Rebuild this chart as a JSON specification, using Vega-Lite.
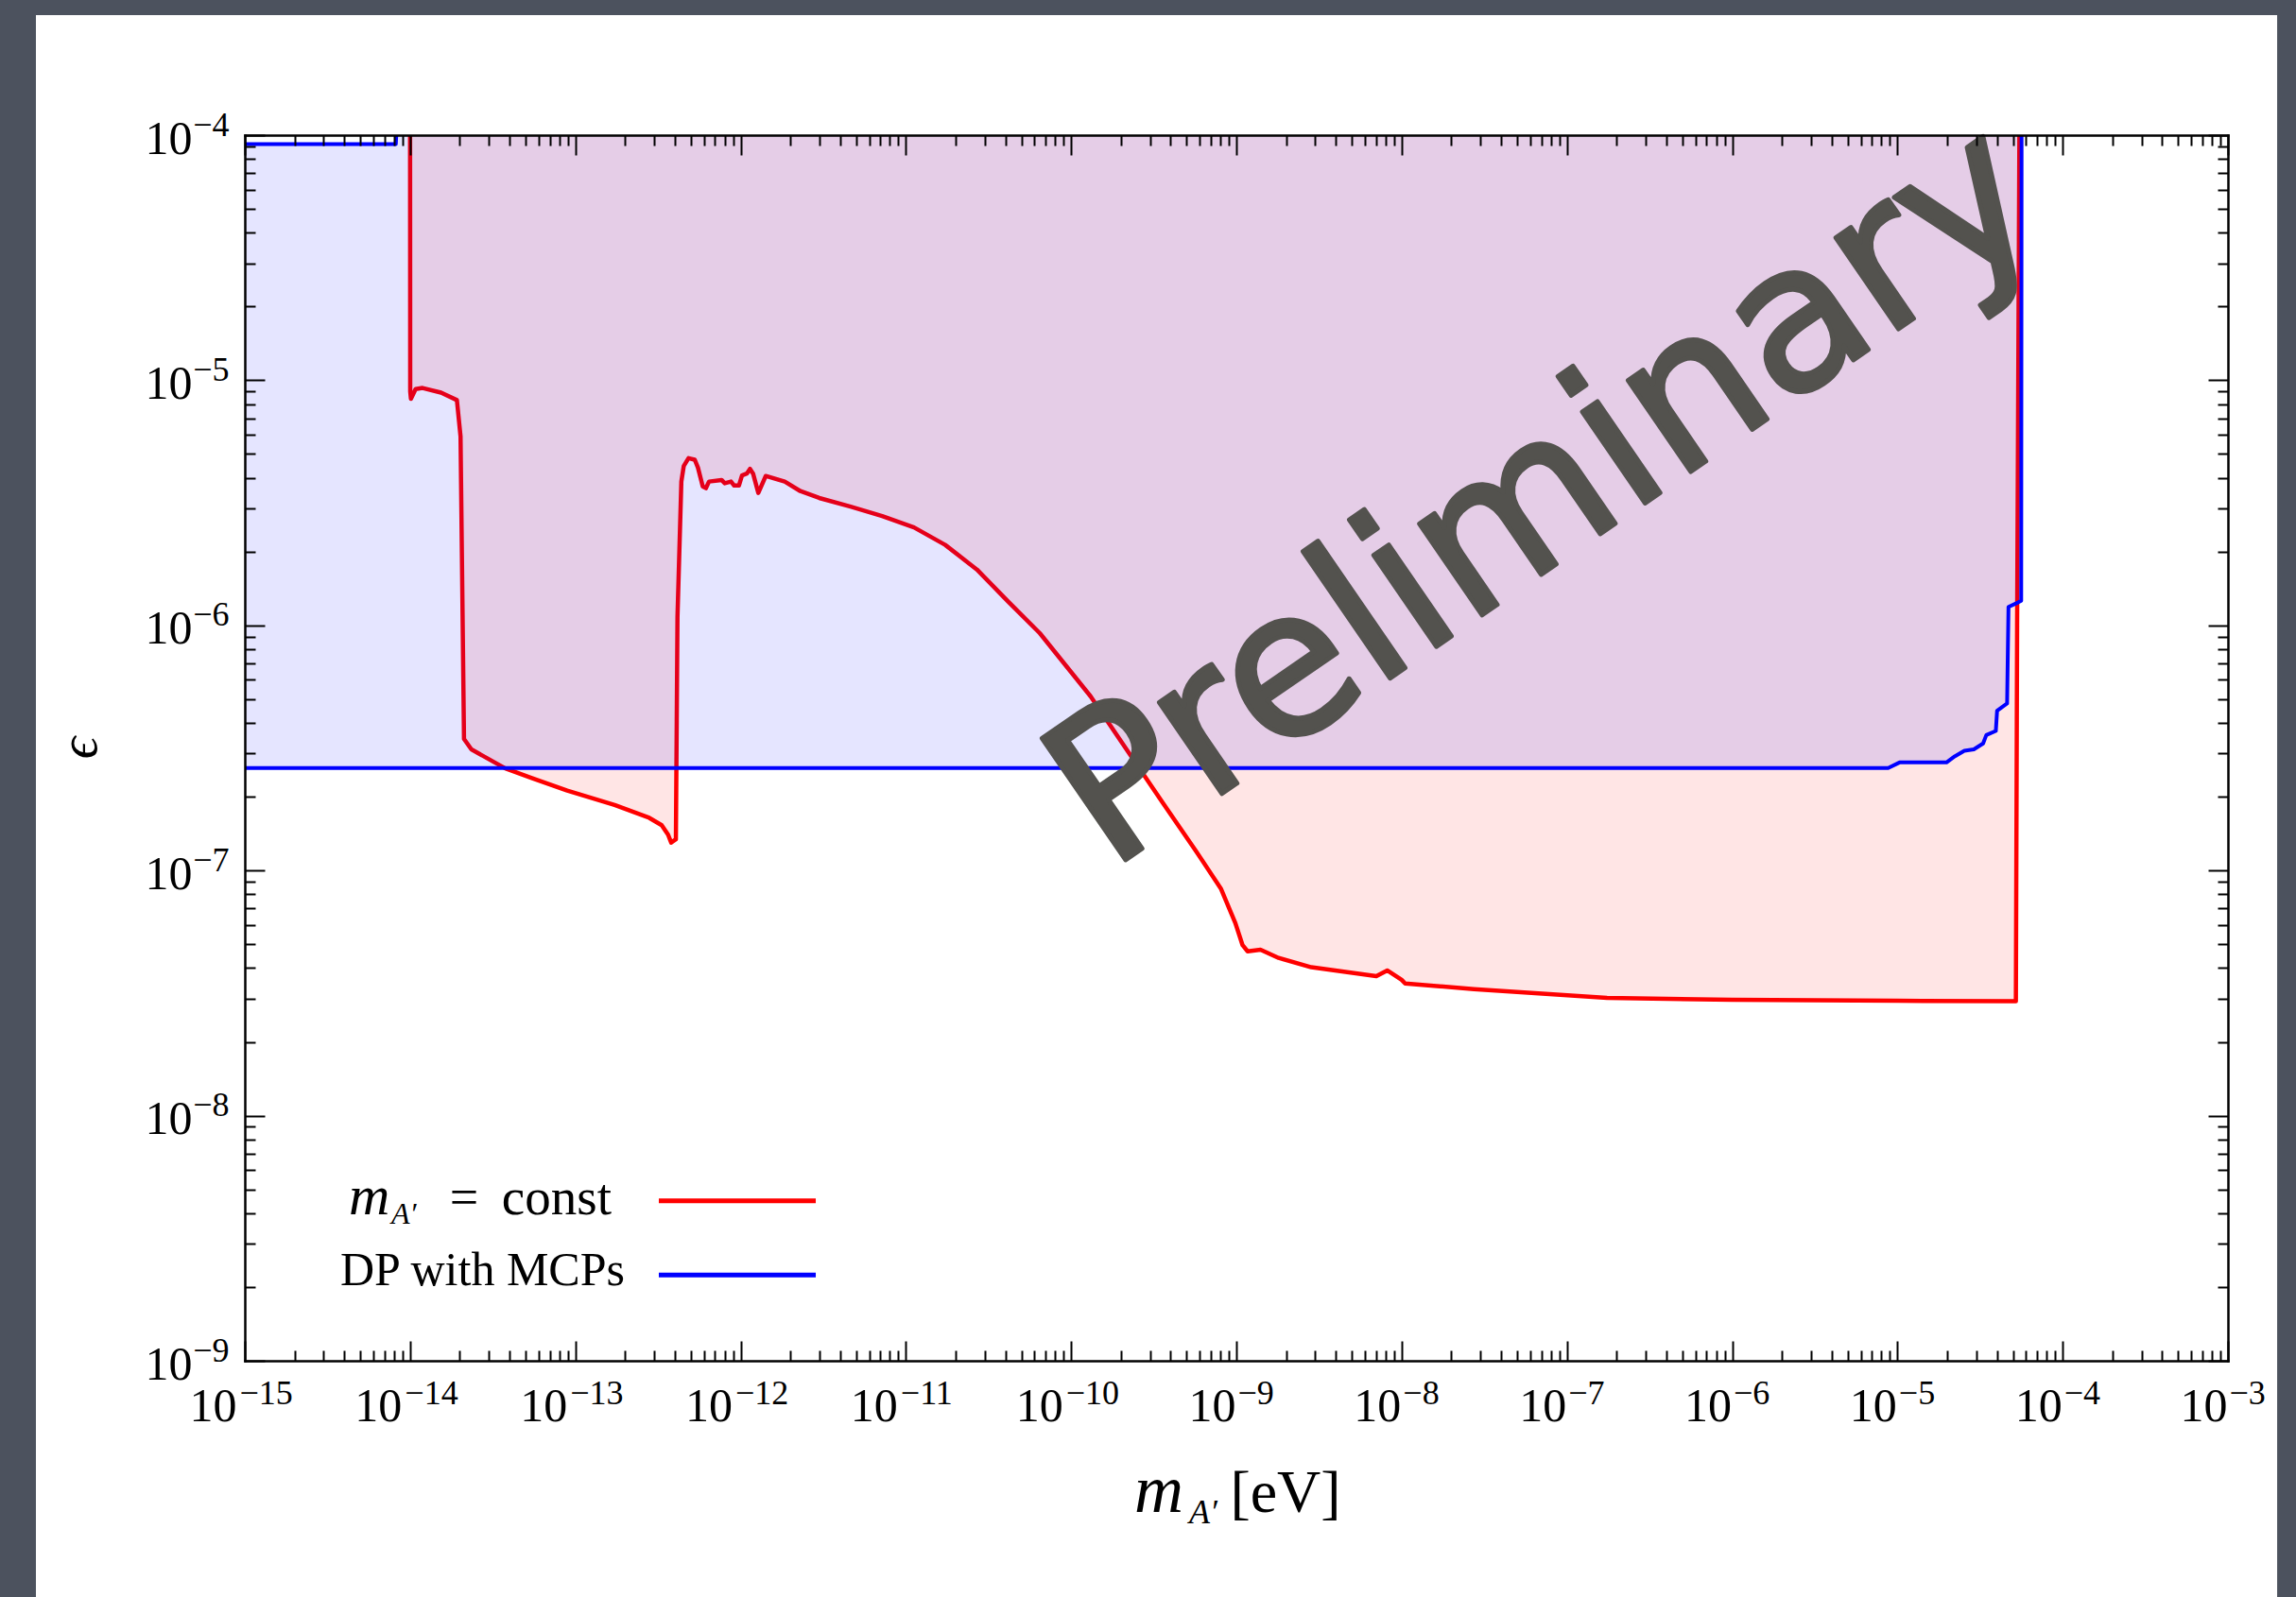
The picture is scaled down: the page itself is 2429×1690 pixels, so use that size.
{
  "$schema": "https://vega.github.io/schema/vega-lite/v6.json",
  "width": 2098,
  "height": 1297,
  "autosize": {"type": "none"},
  "padding": {"left": 259, "top": 143, "right": 72, "bottom": 250},
  "background": "#4c525e",
  "config": {"view": {"stroke": null}},
  "data": {"values": [{}]},
  "datasets": {
    "red": [
      {"m": 1.0e-14, "eps": 1.0e-4},
      {"m": 1.002e-14, "eps": 9.0e-6},
      {"m": 1.012e-14, "eps": 8.4e-6},
      {"m": 1.08e-14, "eps": 9.2e-6},
      {"m": 1.19e-14, "eps": 9.3e-6},
      {"m": 1.54e-14, "eps": 8.9e-6},
      {"m": 1.92e-14, "eps": 8.3e-6},
      {"m": 2.02e-14, "eps": 5.9e-6},
      {"m": 2.12e-14, "eps": 3.44e-7},
      {"m": 2.35e-14, "eps": 3.12e-7},
      {"m": 3.77e-14, "eps": 2.61e-7},
      {"m": 5.5e-14, "eps": 2.38e-7},
      {"m": 8.93e-14, "eps": 2.12e-7},
      {"m": 1.73e-13, "eps": 1.85e-7},
      {"m": 2.80e-13, "eps": 1.64e-7},
      {"m": 3.33e-13, "eps": 1.53e-7},
      {"m": 3.64e-13, "eps": 1.40e-7},
      {"m": 3.80e-13, "eps": 1.30e-7},
      {"m": 4.06e-13, "eps": 1.34e-7},
      {"m": 4.15e-13, "eps": 1.08e-6},
      {"m": 4.38e-13, "eps": 3.86e-6},
      {"m": 4.53e-13, "eps": 4.47e-6},
      {"m": 4.84e-13, "eps": 4.81e-6},
      {"m": 5.28e-13, "eps": 4.74e-6},
      {"m": 5.52e-13, "eps": 4.40e-6},
      {"m": 5.90e-13, "eps": 3.69e-6},
      {"m": 6.17e-13, "eps": 3.63e-6},
      {"m": 6.44e-13, "eps": 3.86e-6},
      {"m": 7.67e-13, "eps": 3.92e-6},
      {"m": 8.02e-13, "eps": 3.80e-6},
      {"m": 8.75e-13, "eps": 3.86e-6},
      {"m": 9.14e-13, "eps": 3.72e-6},
      {"m": 9.77e-13, "eps": 3.72e-6},
      {"m": 1.02e-12, "eps": 4.09e-6},
      {"m": 1.09e-12, "eps": 4.16e-6},
      {"m": 1.14e-12, "eps": 4.35e-6},
      {"m": 1.19e-12, "eps": 4.16e-6},
      {"m": 1.28e-12, "eps": 3.47e-6},
      {"m": 1.42e-12, "eps": 4.07e-6},
      {"m": 1.85e-12, "eps": 3.86e-6},
      {"m": 2.30e-12, "eps": 3.53e-6},
      {"m": 2.99e-12, "eps": 3.31e-6},
      {"m": 4.63e-12, "eps": 3.05e-6},
      {"m": 7.19e-12, "eps": 2.79e-6},
      {"m": 1.12e-11, "eps": 2.51e-6},
      {"m": 1.73e-11, "eps": 2.13e-6},
      {"m": 2.69e-11, "eps": 1.69e-6},
      {"m": 4.16e-11, "eps": 1.25e-6},
      {"m": 6.46e-11, "eps": 9.3e-7},
      {"m": 1.31e-10, "eps": 5.14e-7},
      {"m": 2.54e-10, "eps": 2.66e-7},
      {"m": 3.60e-10, "eps": 1.88e-7},
      {"m": 5.65e-10, "eps": 1.21e-7},
      {"m": 8.05e-10, "eps": 8.45e-8},
      {"m": 9.86e-10, "eps": 6.1e-8},
      {"m": 1.09e-9, "eps": 4.96e-8},
      {"m": 1.17e-9, "eps": 4.68e-8},
      {"m": 1.40e-9, "eps": 4.75e-8},
      {"m": 1.80e-9, "eps": 4.40e-8},
      {"m": 2.84e-9, "eps": 4.03e-8},
      {"m": 7.03e-9, "eps": 3.71e-8},
      {"m": 8.18e-9, "eps": 3.91e-8},
      {"m": 1.00e-8, "eps": 3.58e-8},
      {"m": 1.05e-8, "eps": 3.46e-8},
      {"m": 2.74e-8, "eps": 3.28e-8},
      {"m": 1.75e-7, "eps": 3.02e-8},
      {"m": 1.0e-6, "eps": 2.97e-8},
      {"m": 1.0e-5, "eps": 2.94e-8},
      {"m": 5.21e-5, "eps": 2.93e-8},
      {"m": 5.30e-5, "eps": 1.0e-6},
      {"m": 5.47e-5, "eps": 1.0e-4}
    ],
    "blue": [
      {"m": 1.0e-15, "eps": 2.62e-7, "top": 9.2e-5},
      {"m": 8.2e-15, "eps": 2.62e-7, "top": 9.2e-5},
      {"m": 8.25e-15, "eps": 2.62e-7, "top": 1.0e-4},
      {"m": 8.79e-6, "eps": 2.62e-7, "top": 1.0e-4},
      {"m": 1.03e-5, "eps": 2.76e-7, "top": 1.0e-4},
      {"m": 1.98e-5, "eps": 2.76e-7, "top": 1.0e-4},
      {"m": 2.22e-5, "eps": 2.92e-7, "top": 1.0e-4},
      {"m": 2.54e-5, "eps": 3.08e-7, "top": 1.0e-4},
      {"m": 2.90e-5, "eps": 3.12e-7, "top": 1.0e-4},
      {"m": 3.30e-5, "eps": 3.30e-7, "top": 1.0e-4},
      {"m": 3.45e-5, "eps": 3.57e-7, "top": 1.0e-4},
      {"m": 3.94e-5, "eps": 3.71e-7, "top": 1.0e-4},
      {"m": 4.01e-5, "eps": 4.49e-7, "top": 1.0e-4},
      {"m": 4.61e-5, "eps": 4.80e-7, "top": 1.0e-4},
      {"m": 4.70e-5, "eps": 1.19e-6, "top": 1.0e-4},
      {"m": 5.36e-5, "eps": 1.24e-6, "top": 1.0e-4},
      {"m": 5.61e-5, "eps": 1.26e-6, "top": 1.0e-4},
      {"m": 5.64e-5, "eps": 1.0e-4, "top": 1.0e-4}
    ]
  },
  "resolve": {"axis": {"x": "independent", "y": "independent"}},
  "layer": [
    {
      "mark": {"type": "rect", "color": "white"},
      "encoding": {
        "x": {"datum": 5.444e-17, "type": "quantitative", "scale": {"type": "log", "domain": [1e-15, 1e-3], "nice": false}, "axis": null},
        "x2": {"datum": 1.985e-3},
        "y": {"datum": 3.088e-4, "type": "quantitative", "scale": {"type": "log", "domain": [1e-9, 1e-4], "nice": false}, "axis": null},
        "y2": {"datum": 1.087e-10}
      }
    },
    {
      "data": {"name": "red"},
      "mark": {"type": "area", "color": "#ff0000", "fillOpacity": 0.1},
      "encoding": {
        "x": {"field": "m", "type": "quantitative", "scale": {"type": "log", "domain": [1e-15, 1e-3], "nice": false},
          "axis": {"orient": "bottom", "values": [1e-15, 1e-14, 1e-13, 1e-12, 1e-11, 1e-10, 1e-9, 1e-8, 1e-7, 1e-6, 1e-5, 1e-4, 1e-3],
            "title": null, "grid": false, "zindex": 1, "ticks": false, "domain": true, "domainColor": "black", "domainWidth": 2.5, "domainCap": "square",
            "labelExpr": "'10'", "labelFont": "Liberation Serif", "labelFontSize": 50, "labelColor": "black",
            "labelAlign": "right", "labelBaseline": "alphabetic", "labelPadding": 63,
            "labelOffset": {"condition": {"test": "datum.value < 5e-10", "value": -9}, "value": -1},
            "labelFlush": false, "labelOverlap": false, "labelBound": false}},
        "y": {"field": "eps", "type": "quantitative", "scale": {"type": "log", "domain": [1e-9, 1e-4], "nice": false},
          "axis": {"orient": "left", "values": [1e-9, 1e-8, 1e-7, 1e-6, 1e-5, 1e-4],
            "title": null, "grid": false, "zindex": 1, "ticks": false, "domain": true, "domainColor": "black", "domainWidth": 2.5, "domainCap": "square",
            "labelExpr": "'10'", "labelFont": "Liberation Serif", "labelFontSize": 50, "labelColor": "black",
            "labelAlign": "right", "labelBaseline": "alphabetic", "labelPadding": 56, "labelOffset": 19,
            "labelFlush": false, "labelOverlap": false, "labelBound": false}},
        "y2": {"datum": 1e-4}
      }
    },
    {
      "data": {"name": "red"},
      "mark": {"type": "line", "color": "#ff0000", "strokeWidth": 4.5, "strokeJoin": "round"},
      "encoding": {
        "x": {"field": "m", "type": "quantitative", "scale": {"type": "log", "domain": [1e-15, 1e-3], "nice": false},
          "axis": {"orient": "bottom", "values": [1e-15, 1e-14, 1e-13, 1e-12, 1e-11, 1e-10, 1e-9, 1e-8, 1e-7, 1e-6, 1e-5, 1e-4, 1e-3],
            "title": null, "grid": false, "zindex": 1, "ticks": false, "domain": false,
            "labelExpr": "'−' + round(-log(datum.value) / LN10)", "labelFont": "Liberation Serif", "labelFontSize": 36, "labelColor": "black",
            "labelAlign": "left", "labelBaseline": "alphabetic", "labelPadding": 45,
            "labelOffset": {"condition": {"test": "datum.value < 5e-10", "value": -6}, "value": 1},
            "labelFlush": false, "labelOverlap": false, "labelBound": false}},
        "y": {"field": "eps", "type": "quantitative", "scale": {"type": "log", "domain": [1e-9, 1e-4], "nice": false},
          "axis": {"orient": "left", "values": [1e-9, 1e-8, 1e-7, 1e-6, 1e-5, 1e-4],
            "title": null, "grid": false, "zindex": 1, "ticks": false, "domain": false,
            "labelExpr": "'−' + round(-log(datum.value) / LN10)", "labelFont": "Liberation Serif", "labelFontSize": 36, "labelColor": "black",
            "labelAlign": "right", "labelBaseline": "alphabetic", "labelPadding": 17, "labelOffset": 0,
            "labelFlush": false, "labelOverlap": false, "labelBound": false}}
      }
    },
    {
      "data": {"name": "blue"},
      "mark": {"type": "area", "color": "#0000ff", "fillOpacity": 0.1},
      "encoding": {
        "x": {"field": "m", "type": "quantitative", "scale": {"type": "log", "domain": [1e-15, 1e-3], "nice": false},
          "axis": {"orient": "bottom", "values": [1e-15, 1e-14, 1e-13, 1e-12, 1e-11, 1e-10, 1e-9, 1e-8, 1e-7, 1e-6, 1e-5, 1e-4, 1e-3],
            "title": null, "grid": false, "zindex": 1, "labels": false, "domain": false,
            "ticks": true, "tickSize": -21, "tickWidth": 2, "tickColor": "black"}},
        "y": {"field": "eps", "type": "quantitative", "scale": {"type": "log", "domain": [1e-9, 1e-4], "nice": false},
          "axis": {"orient": "left", "values": [1e-9, 1e-8, 1e-7, 1e-6, 1e-5, 1e-4],
            "title": null, "grid": false, "zindex": 1, "labels": false, "domain": false,
            "ticks": true, "tickSize": -21, "tickWidth": 2, "tickColor": "black"}},
        "y2": {"field": "top"}
      }
    },
    {
      "data": {"name": "blue"},
      "mark": {"type": "line", "color": "#0000ff", "strokeWidth": 4, "strokeJoin": "round"},
      "encoding": {
        "x": {"field": "m", "type": "quantitative", "scale": {"type": "log", "domain": [1e-15, 1e-3], "nice": false},
          "axis": {"orient": "bottom",
            "values": [2e-15, 3e-15, 4e-15, 5e-15, 6e-15, 7e-15, 8e-15, 9e-15,
                       2e-14, 3e-14, 4e-14, 5e-14, 6e-14, 7e-14, 8e-14, 9e-14,
                       2e-13, 3e-13, 4e-13, 5e-13, 6e-13, 7e-13, 8e-13, 9e-13,
                       2e-12, 3e-12, 4e-12, 5e-12, 6e-12, 7e-12, 8e-12, 9e-12,
                       2e-11, 3e-11, 4e-11, 5e-11, 6e-11, 7e-11, 8e-11, 9e-11,
                       2e-10, 3e-10, 4e-10, 5e-10, 6e-10, 7e-10, 8e-10, 9e-10,
                       2e-9, 3e-9, 4e-9, 5e-9, 6e-9, 7e-9, 8e-9, 9e-9,
                       2e-8, 3e-8, 4e-8, 5e-8, 6e-8, 7e-8, 8e-8, 9e-8,
                       2e-7, 3e-7, 4e-7, 5e-7, 6e-7, 7e-7, 8e-7, 9e-7,
                       2e-6, 3e-6, 4e-6, 5e-6, 6e-6, 7e-6, 8e-6, 9e-6,
                       2e-5, 3e-5, 4e-5, 5e-5, 6e-5, 7e-5, 8e-5, 9e-5,
                       2e-4, 3e-4, 4e-4, 5e-4, 6e-4, 7e-4, 8e-4, 9e-4],
            "title": null, "grid": false, "zindex": 1, "labels": false, "domain": false,
            "ticks": true, "tickSize": -11, "tickWidth": 2, "tickColor": "black"}},
        "y": {"field": "eps", "type": "quantitative", "scale": {"type": "log", "domain": [1e-9, 1e-4], "nice": false},
          "axis": {"orient": "left",
            "values": [2e-9, 3e-9, 4e-9, 5e-9, 6e-9, 7e-9, 8e-9, 9e-9,
                       2e-8, 3e-8, 4e-8, 5e-8, 6e-8, 7e-8, 8e-8, 9e-8,
                       2e-7, 3e-7, 4e-7, 5e-7, 6e-7, 7e-7, 8e-7, 9e-7,
                       2e-6, 3e-6, 4e-6, 5e-6, 6e-6, 7e-6, 8e-6, 9e-6,
                       2e-5, 3e-5, 4e-5, 5e-5, 6e-5, 7e-5, 8e-5, 9e-5],
            "title": null, "grid": false, "zindex": 1, "labels": false, "domain": false,
            "ticks": true, "tickSize": -11, "tickWidth": 2, "tickColor": "black"}}
      }
    },
    {
      "data": {"name": "blue"},
      "transform": [{"filter": "datum.m < 1e-14"}],
      "mark": {"type": "line", "color": "#0000ff", "strokeWidth": 4, "strokeJoin": "round"},
      "encoding": {
        "x": {"field": "m", "type": "quantitative", "scale": {"type": "log", "domain": [1e-15, 1e-3], "nice": false},
          "axis": {"orient": "top", "values": [1e-15, 1e-14, 1e-13, 1e-12, 1e-11, 1e-10, 1e-9, 1e-8, 1e-7, 1e-6, 1e-5, 1e-4, 1e-3],
            "title": null, "grid": false, "zindex": 1, "labels": false,
            "domain": true, "domainColor": "black", "domainWidth": 2.5, "domainCap": "square",
            "ticks": true, "tickSize": -21, "tickWidth": 2, "tickColor": "black"}},
        "y": {"field": "top", "type": "quantitative", "scale": {"type": "log", "domain": [1e-9, 1e-4], "nice": false},
          "axis": {"orient": "right", "values": [1e-9, 1e-8, 1e-7, 1e-6, 1e-5, 1e-4],
            "title": null, "grid": false, "zindex": 1, "labels": false,
            "domain": true, "domainColor": "black", "domainWidth": 2.5, "domainCap": "square",
            "ticks": true, "tickSize": -21, "tickWidth": 2, "tickColor": "black"}}
      }
    },
    {
      "mark": {"type": "text", "text": "Preliminary", "font": "DejaVu Sans", "fontSize": 214, "angle": -34.5,
        "align": "center", "baseline": "alphabetic", "color": "#53524e",
        "stroke": "#53524e", "strokeWidth": 5, "strokeJoin": "round"},
      "encoding": {
        "x": {"datum": 1.2e-7, "type": "quantitative", "scale": {"type": "log", "domain": [1e-15, 1e-3], "nice": false},
          "axis": {"orient": "top",
            "values": [2e-15, 3e-15, 4e-15, 5e-15, 6e-15, 7e-15, 8e-15, 9e-15,
                       2e-14, 3e-14, 4e-14, 5e-14, 6e-14, 7e-14, 8e-14, 9e-14,
                       2e-13, 3e-13, 4e-13, 5e-13, 6e-13, 7e-13, 8e-13, 9e-13,
                       2e-12, 3e-12, 4e-12, 5e-12, 6e-12, 7e-12, 8e-12, 9e-12,
                       2e-11, 3e-11, 4e-11, 5e-11, 6e-11, 7e-11, 8e-11, 9e-11,
                       2e-10, 3e-10, 4e-10, 5e-10, 6e-10, 7e-10, 8e-10, 9e-10,
                       2e-9, 3e-9, 4e-9, 5e-9, 6e-9, 7e-9, 8e-9, 9e-9,
                       2e-8, 3e-8, 4e-8, 5e-8, 6e-8, 7e-8, 8e-8, 9e-8,
                       2e-7, 3e-7, 4e-7, 5e-7, 6e-7, 7e-7, 8e-7, 9e-7,
                       2e-6, 3e-6, 4e-6, 5e-6, 6e-6, 7e-6, 8e-6, 9e-6,
                       2e-5, 3e-5, 4e-5, 5e-5, 6e-5, 7e-5, 8e-5, 9e-5,
                       2e-4, 3e-4, 4e-4, 5e-4, 6e-4, 7e-4, 8e-4, 9e-4],
            "title": null, "grid": false, "zindex": 1, "labels": false, "domain": false,
            "ticks": true, "tickSize": -11, "tickWidth": 2, "tickColor": "black"}},
        "y": {"datum": 2.075e-6, "type": "quantitative", "scale": {"type": "log", "domain": [1e-9, 1e-4], "nice": false},
          "axis": {"orient": "right",
            "values": [2e-9, 3e-9, 4e-9, 5e-9, 6e-9, 7e-9, 8e-9, 9e-9,
                       2e-8, 3e-8, 4e-8, 5e-8, 6e-8, 7e-8, 8e-8, 9e-8,
                       2e-7, 3e-7, 4e-7, 5e-7, 6e-7, 7e-7, 8e-7, 9e-7,
                       2e-6, 3e-6, 4e-6, 5e-6, 6e-6, 7e-6, 8e-6, 9e-6,
                       2e-5, 3e-5, 4e-5, 5e-5, 6e-5, 7e-5, 8e-5, 9e-5],
            "title": null, "grid": false, "zindex": 1, "labels": false, "domain": false,
            "ticks": true, "tickSize": -11, "tickWidth": 2, "tickColor": "black"}}
      }
    },
    {
      "mark": {"type": "rule", "color": "#ff0000", "strokeWidth": 5},
      "encoding": {
        "x": {"datum": 3.2e-13, "type": "quantitative", "axis": null},
        "x2": {"datum": 2.85e-12},
        "y": {"datum": 4.49e-9, "type": "quantitative", "axis": null}
      }
    },
    {
      "mark": {"type": "rule", "color": "#0000ff", "strokeWidth": 5},
      "encoding": {
        "x": {"datum": 3.2e-13, "type": "quantitative", "axis": null},
        "x2": {"datum": 2.85e-12},
        "y": {"datum": 2.24e-9, "type": "quantitative", "axis": null}
      }
    },
    {
      "mark": {"type": "text", "text": "m", "font": "Liberation Serif", "fontStyle": "italic", "fontSize": 60,
        "align": "left", "baseline": "alphabetic", "dx": -328, "dy": 14, "color": "black"},
      "encoding": {
        "x": {"datum": 3.2e-13, "type": "quantitative", "axis": null},
        "y": {"datum": 4.49e-9, "type": "quantitative", "axis": null}
      }
    },
    {
      "mark": {"type": "text", "text": "A′", "font": "Liberation Serif", "fontStyle": "italic", "fontSize": 32,
        "align": "left", "baseline": "alphabetic", "dx": -283, "dy": 24, "color": "black"},
      "encoding": {
        "x": {"datum": 3.2e-13, "type": "quantitative", "axis": null},
        "y": {"datum": 4.49e-9, "type": "quantitative", "axis": null}
      }
    },
    {
      "mark": {"type": "text", "text": "=", "font": "Liberation Serif", "fontSize": 54,
        "align": "center", "baseline": "alphabetic", "dx": -206, "dy": 14, "color": "black"},
      "encoding": {
        "x": {"datum": 3.2e-13, "type": "quantitative", "axis": null},
        "y": {"datum": 4.49e-9, "type": "quantitative", "axis": null}
      }
    },
    {
      "mark": {"type": "text", "text": "const", "font": "Liberation Serif", "fontSize": 55,
        "align": "right", "baseline": "alphabetic", "dx": -50, "dy": 14, "color": "black"},
      "encoding": {
        "x": {"datum": 3.2e-13, "type": "quantitative", "axis": null},
        "y": {"datum": 4.49e-9, "type": "quantitative", "axis": null}
      }
    },
    {
      "mark": {"type": "text", "text": "DP with MCPs", "font": "Liberation Serif", "fontSize": 50,
        "align": "right", "baseline": "alphabetic", "dx": -36, "dy": 11, "color": "black"},
      "encoding": {
        "x": {"datum": 3.2e-13, "type": "quantitative", "axis": null},
        "y": {"datum": 2.24e-9, "type": "quantitative", "axis": null}
      }
    },
    {
      "mark": {"type": "text", "text": "m", "font": "Liberation Serif", "fontStyle": "italic", "fontSize": 72,
        "align": "left", "baseline": "alphabetic", "dx": -108, "dy": 160, "color": "black"},
      "encoding": {
        "x": {"datum": 1e-9, "type": "quantitative", "axis": null},
        "y": {"datum": 1e-9, "type": "quantitative", "axis": null}
      }
    },
    {
      "mark": {"type": "text", "text": "A′", "font": "Liberation Serif", "fontStyle": "italic", "fontSize": 36,
        "align": "left", "baseline": "alphabetic", "dx": -50, "dy": 172, "color": "black"},
      "encoding": {
        "x": {"datum": 1e-9, "type": "quantitative", "axis": null},
        "y": {"datum": 1e-9, "type": "quantitative", "axis": null}
      }
    },
    {
      "mark": {"type": "text", "text": "[eV]", "font": "Liberation Serif", "fontSize": 64,
        "align": "center", "baseline": "alphabetic", "dx": 52, "dy": 160, "color": "black"},
      "encoding": {
        "x": {"datum": 1e-9, "type": "quantitative", "axis": null},
        "y": {"datum": 1e-9, "type": "quantitative", "axis": null}
      }
    },
    {
      "mark": {"type": "text", "text": "ϵ", "font": "Liberation Serif", "fontStyle": "italic", "fontSize": 58,
        "angle": -90, "align": "center", "baseline": "middle", "dy": -174, "color": "black"},
      "encoding": {
        "x": {"datum": 1e-15, "type": "quantitative", "axis": null},
        "y": {"datum": 3.162e-7, "type": "quantitative", "axis": null}
      }
    }
  ]
}
